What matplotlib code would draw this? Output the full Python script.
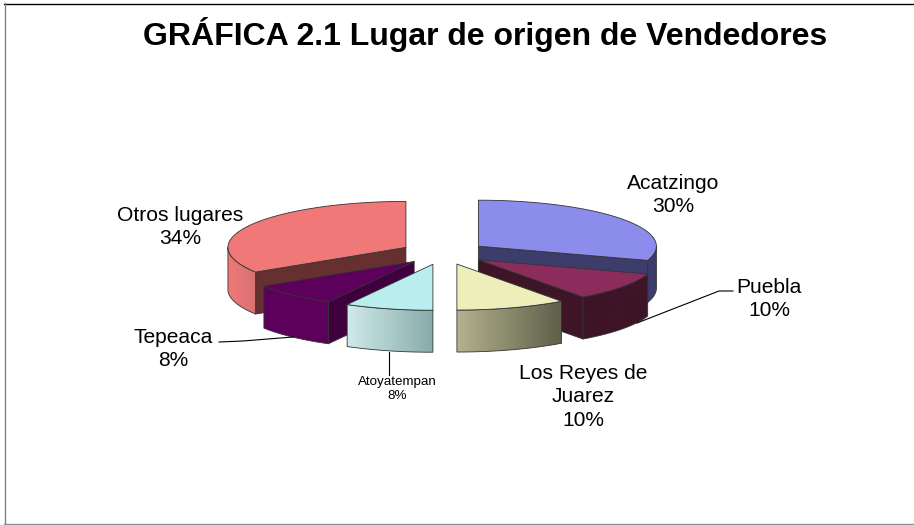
import numpy as np
import matplotlib
matplotlib.use("Agg")
import matplotlib.pyplot as plt
from matplotlib.colors import to_rgb
from matplotlib.patches import Polygon

plt.rcParams["font.family"] = ["Liberation Sans", "DejaVu Sans"]

# data
names = ["Acatzingo", "Puebla", "Los Reyes de\nJuarez", "Atoyatempan", "Tepeaca", "Otros lugares"]
shares = [30, 10, 10, 8, 8, 34]

# colours: top, face, rim left, rim right
top_colors = ["#8C8CEC", "#8B2C5C", "#EEEEBB", "#BAEDED", "#5C005C", "#F07878"]
face_colors = ["#3D3D6C", "#3E1427", "#5F5F4A", "#88ABAB", "#400040", "#663030"]
rim_left = ["#3D3D6C", "#3E1427", "#B2B28E", "#CFEAEA", "#5C005C", "#F07878"]
rim_right = ["#3D3D6C", "#3E1427", "#5F5F4A", "#88ABAB", "#5C005C", "#D87272"]

# pie geometry in pixels
CX, CY = 443.6, 253.0
RX, RY = 178.0, 46.0
DEPTH = 42.0
EXPLODE = 43.0
EXPLODE_Y = 0.27

fig = plt.figure(figsize=(9.14, 5.25), dpi=100)
ax = fig.add_axes([0, 0, 1, 1])
ax.set_xlim(0, 914)
ax.set_ylim(525, 0)
ax.axis("off")


def rim_points(x0, y0, a0, a1, n=60):
    t = np.radians(np.linspace(a0, a1, n))
    return np.column_stack([x0 + RX * np.sin(t), y0 - RY * np.cos(t)])


def draw_slice(i, a0, a1, z):
    mid = np.radians((a0 + a1) / 2)
    x0 = CX + EXPLODE * np.sin(mid)
    y0 = CY - EXPLODE * EXPLODE_Y * np.cos(mid)
    apex = np.array([x0, y0])
    down = np.array([0, DEPTH])
    edge = dict(edgecolor="#333333", linewidth=0.6, joinstyle="round")

    # cut face that looks at the viewer
    ang = a1 if a1 <= 180 else a0
    if ang != 180:
        p = rim_points(x0, y0, ang, ang, 1)[0]
        ax.add_patch(Polygon([apex, p, p + down, apex + down],
                             facecolor=face_colors[i], zorder=z, **edge))

    # outer wall, only the part in front
    lo, hi = max(a0, 90), min(a1, 270)
    if lo < hi:
        pts = rim_points(x0, y0, lo, hi)
        wall = np.vstack([pts, (pts + down)[::-1]])
        poly = Polygon(wall, facecolor="none", edgecolor="none", zorder=z)
        ax.add_patch(poly)
        xmin, xmax = wall[:, 0].min(), wall[:, 0].max()
        ymin, ymax = wall[:, 1].min(), wall[:, 1].max()
        c0, c1 = np.array(to_rgb(rim_left[i])), np.array(to_rgb(rim_right[i]))
        grad = np.linspace(0, 1, 128)[None, :, None] * (c1 - c0) + c0
        im = ax.imshow(grad, extent=[xmin, xmax, ymax, ymin], aspect="auto", zorder=z + 0.1)
        im.set_clip_path(poly)
        ax.add_patch(Polygon(wall, facecolor="none", zorder=z + 0.2, **edge))

    # top surface
    pts = rim_points(x0, y0, a0, a1)
    ax.add_patch(Polygon(np.vstack([apex, pts]), facecolor=top_colors[i], zorder=z + 0.3, **edge))


edges = np.cumsum([0] + shares) * 3.6
for z, i in enumerate([5, 0, 1, 4, 3, 2]):
    draw_slice(i, edges[i], edges[i + 1], z + 2)

# imshow changes the limits, put them back
ax.set_xlim(0, 914)
ax.set_ylim(525, 0)

# frame
ax.plot([4, 914], [3.5, 3.5], color="black", lw=1, zorder=50, clip_on=False)
ax.plot([4.5, 4.5], [3, 525], color="#808080", lw=1, zorder=50)
ax.plot([4, 914], [524, 524], color="#909090", lw=1, zorder=50)

# title
ax.text(485, 35, "GRÁFICA 2.1 Lugar de origen de Vendedores", fontsize=23, fontweight="bold",
        ha="center", va="center", zorder=60)

# labels
lab_x = [673, 769, 583, 397, 173, 180]
lab_y = [195, 299, 397, 389, 349, 227]
lab_size = [15.1, 15.1, 15.1, 9.6, 15.1, 15.1]
for name, s, x, y, fs in zip(names, shares, lab_x, lab_y, lab_size):
    ax.text(x, y, f"{name}\n{s}%", fontsize=fs, ha="center", va="center",
            linespacing=1.33 if fs > 10 else 1.25, zorder=60)

# leader lines
ax.plot([733, 719, 637], [291, 291, 323], color="black", lw=0.8, zorder=55)
ax.plot([219, 243, 293], [342, 341, 337], color="black", lw=0.8, zorder=55)
ax.plot([389, 389], [352, 375], color="black", lw=0.8, zorder=55)

fig.savefig("out.png", dpi=100)
plt.close(fig)
